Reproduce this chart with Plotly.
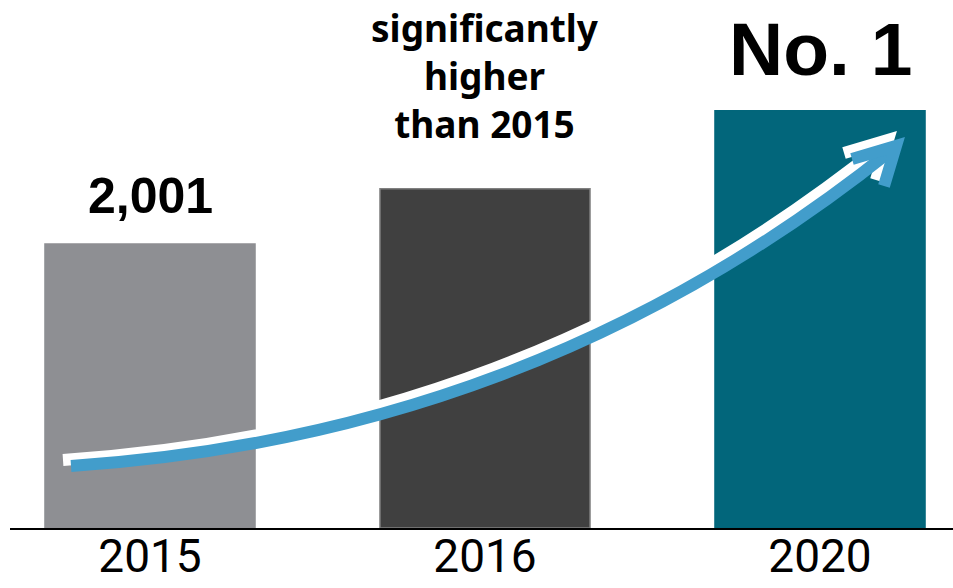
import plotly.graph_objects as go

# ---- data ----
years = ["2015", "2016", "2020"]
values = [2001, 2390, 2940]
bar_colors = ["#8e8f93", "#404040", "#02667b"]
bar_line_colors = ["#8e8f93", "#808080", "#02667b"]
labels = ["2,001", "significantly<br>higher<br>than 2015", "No. 1"]

W, H = 953, 588
ML, MR, MT, MB = 10, 0, 0, 60
PW, PH = W - ML - MR, H - MT - MB
YMAX = 3720

fig = go.Figure()
fig.add_trace(go.Bar(
    x=years, y=values,
    marker=dict(color=bar_colors, line=dict(color=bar_line_colors, width=1.5)),
    width=0.627, hoverinfo="skip", showlegend=False,
))

# value / callout labels
fig.add_annotation(x=0, y=values[0], text="<b>" + labels[0] + "</b>", showarrow=False,
                   yanchor="bottom", yshift=18,
                   font=dict(family="Liberation Sans, Arial", size=50, color="#000"))
fig.add_annotation(x=1, y=values[1], text="<b>" + labels[1] + "</b>", showarrow=False,
                   yanchor="bottom", yshift=38,
                   font=dict(family="Noto Sans", size=37, color="#000"))
fig.add_annotation(x=2, y=values[2], text="<b>" + labels[2] + "</b>", showarrow=False,
                   yanchor="bottom", yshift=18,
                   font=dict(family="Liberation Sans, Arial", size=75, color="#000"))

# ---- decorative growth arrow (pixel positions converted to paper coords) ----
def P(px, py):
    return f"{(px - ML) / PW:.5f},{(H - MB - py) / PH:.5f}"

def curve(dx, dy):
    pts = [(71, 466), (371, 446), (645, 348), (893, 149)]
    p = [(x + dx, y + dy) for x, y in pts]
    return f"M {P(*p[0])} C {P(*p[1])} {P(*p[2])} {P(*p[3])}"

def head(dx, dy):
    pts = [(852, 159), (896, 146), (884, 186)]
    p = [(x + dx, y + dy) for x, y in pts]
    return f"M {P(*p[0])} L {P(*p[1])} L {P(*p[2])}"

for dx, dy, col in [(-8, -6, "#ffffff"), (0, 0, "#429dcb")]:
    fig.add_shape(type="path", path=curve(dx, dy), xref="paper", yref="paper",
                  line=dict(color=col, width=12), layer="above")
    fig.add_shape(type="path", path=head(dx, dy), xref="paper", yref="paper",
                  line=dict(color=col, width=12), layer="above")

fig.update_layout(
    width=W, height=H,
    margin=dict(l=ML, r=MR, t=MT, b=MB),
    paper_bgcolor="white", plot_bgcolor="white",
    bargap=0.373,
    xaxis=dict(range=[-0.4179, 2.397], showline=True, linecolor="#000", linewidth=2,
               showgrid=False, zeroline=False, ticks="", automargin=False,
               ticklabelstandoff=-13,
               tickfont=dict(family="Roboto", size=46, color="#000")),
    yaxis=dict(range=[0, YMAX], visible=False, showgrid=False, zeroline=False,
               automargin=False),
)

fig.write_html("out.html")
